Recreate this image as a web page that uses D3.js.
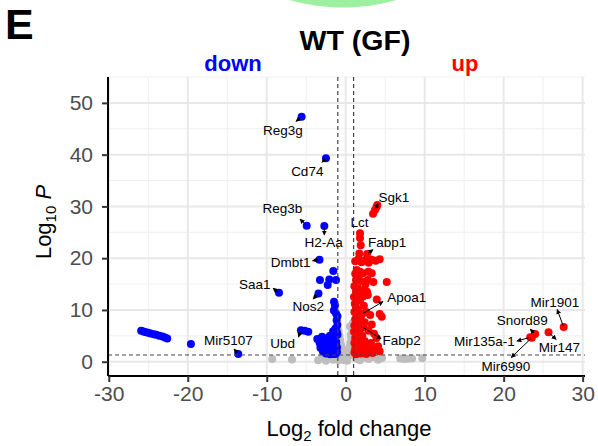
<!DOCTYPE html>
<html><head><meta charset="utf-8">
<script src="https://cdn.jsdelivr.net/npm/d3@7"></script>
<style>html,body{margin:0;padding:0;background:#fff;}svg{display:block;font-family:"Liberation Sans",Arial,sans-serif;}</style>
</head><body><svg id="c" width="598" height="446"></svg>
<script>
// ---------- data ----------
const xTicks = [-30, -20, -10, 0, 10, 20, 30];
const yTicks = [0, 10, 20, 30, 40, 50];
const fcCutoff = 1;
const pCutoff = 1.3;

// labelled down-regulated genes
const downGenes = ["Reg3g", "Cd74", "Reg3b", "H2-Aa", "Dmbt1", "Saa1", "Nos2", "Ubd", "Mir5107"];
const downLog2FC = [-5.58, -2.50, -4.94, -2.71, -3.32, -8.45, -3.45, -5.67, -13.61];
const downLogP = [47.3, 39.3, 26.25, 26.2, 19.7, 13.3, 13.2, 6.1, 1.5];

// labelled up-regulated genes
const upGenes = ["Sgk1", "Lct", "Fabp1", "Apoa1", "Fabp2", "Mir1901", "Snord89", "Mir135a-1", "Mir147", "Mir6990"];
const upLog2FC = [3.71, 1.81, 2.70, 2.07, 2.03, 27.60, 23.99, 23.36, 25.68, 23.57];
const upLogP = [29.3, 24.8, 20.8, 9.2, 6.8, 6.7, 5.35, 4.71, 5.68, 4.63];

// other significant down points [log2FC, logP]
const downOther = [
  [-25.9,6.0],[-25.6,5.85],[-25.3,5.7],[-25.0,5.6],[-24.7,5.45],[-24.3,5.3],[-24.0,5.2],[-23.6,5.0],[-23.2,4.85],[-22.9,4.7],[-22.6,4.5],
  [-19.6,3.4],[-4.74,5.8],[-5.2,6.0],
  [-1.57,17.5],[-3.26,15.8],[-2.08,15.9],[-1.23,15.8],[-2.28,14.8],[-1.48,11.6],[-1.36,10.9],[-1.23,9.3],[-1.05,8.8],[-1.05,7.1],[-1.05,5.2],
  [-1.5,9.9],[-1.15,8.0],[-1.3,6.4],
  [-3.6,4.4],[-3.3,3.6],[-3.0,4.8],[-2.8,3.0],[-2.6,4.3],[-2.4,2.4],[-2.2,3.6],[-2.0,5.0],[-1.8,4.1],[-1.6,5.9],[-1.4,4.6],[-1.2,3.8],
  [-1.1,5.6],[-2.9,2.0],[-2.5,1.6],[-2.1,1.9],[-1.7,1.5],[-1.3,2.2],[-1.1,2.8],[-1.5,2.7],[-2.3,4.6],[-1.9,3.0],[-1.2,6.2],
  [-2.7,3.7],[-3.2,2.7],[-1.6,1.8],[-1.9,2.3],[-1.3,1.5],[-1.1,1.9],[-1.4,3.3],[-1.75,2.5],[-2.0,1.45]
];

// other significant up points [log2FC, logP]
const upOther = [
  [4.0,30.25],[3.46,28.6],[3.9,29.9],
  [1.81,23.9],[1.90,22.5],[1.72,20.9],
  [1.2,19.4],[1.6,19.8],[2.0,19.2],[2.4,19.6],[2.9,19.1],[3.3,19.7],[3.8,19.5],[4.3,19.8],
  [1.39,17.7],[1.81,17.4],[2.19,17.1],[2.86,17.4],[3.30,17.1],
  [5.2,15.4],[1.3,15.8],[1.9,15.6],[2.8,15.8],[3.5,15.4],
  [1.56,14.2],[2.19,13.8],[2.7,13.5],[3.93,12.0],[4.56,8.7],[4.3,9.2],
  [1.05,12.5],[1.15,11.2],[1.3,10.5],[1.1,9.6],[1.45,9.0],[1.2,8.2],[1.6,7.8],[1.1,7.0],[1.35,6.5],[1.8,6.2],[1.05,5.8],[1.5,5.2],
  [2.1,5.0],[1.2,4.6],[1.7,4.2],[2.4,4.0],[1.1,3.6],[1.4,3.2],[2.0,3.0],[2.7,2.8],[1.2,2.5],[1.6,2.2],[2.2,2.0],[3.0,1.9],
  [1.1,1.8],[1.9,1.6],[2.6,1.5],[1.3,1.45],[3.4,1.7],[1.8,11.8],[2.3,10.8],[1.55,10.0],[2.6,9.6],[3.1,9.0],[1.9,8.6],[2.4,7.6],
  [3.3,7.2],[2.9,6.0],[3.6,5.4],[2.3,6.6],[3.9,4.6],[3.2,3.6],[4.1,3.0],[2.8,3.4],[3.5,2.4],[4.3,2.0],[1.3,13.5],[1.7,13.0],
  [2.2,12.6],[2.8,12.9],[1.1,14.6],[1.5,16.6],[1.2,17.0],[2.5,14.9]
];

// not significant [log2FC, logP]
const nsPoints = [
  [-9.3,0.5],[-6.8,0.45],[-3.5,0.3],[-3.0,0.7],[-2.5,0.2],[-2.0,0.8],[-1.6,0.4],[-1.2,1.0],[-0.9,0.3],
  [-0.9,6.0],[-0.8,5.0],[-0.7,4.2],[-0.6,3.3],[-0.5,2.5],[-0.4,1.8],[-0.3,1.2],[-0.2,0.8],[0.0,0.3],[-0.85,3.6],[-0.7,2.2],
  [-0.6,1.4],[-0.9,2.8],[-0.35,0.4],[0.15,0.6],[0.3,1.0],[0.4,1.9],[0.5,2.8],[0.6,3.6],[0.7,4.6],[0.8,5.6],[0.55,6.8],
  [0.9,7.5],[0.85,6.4],[0.75,3.0],[0.9,2.2],[0.45,1.2],[0.9,4.0],[0.65,5.2],[0.2,0.2],[-0.1,1.5],[0.1,2.3],[-0.5,0.9],
  [1.3,0.6],[1.8,0.3],[2.3,0.8],[2.9,0.5],[3.5,0.9],[4.1,0.4],[4.6,0.7],[6.9,0.6],[7.4,0.5],[7.9,0.55],[8.4,0.6],[9.7,0.65]
];

// ---------- drawing ----------
const svg = d3.select("#c");
const W = 598, H = 446;
const x = d3.scaleLinear().domain([-30.1, 30.3]).range([108, 585]);
const y = d3.scaleLinear().domain([-2.76, 55]).range([376, 77]);
const FONT = '"Liberation Sans", Arial, sans-serif';

svg.append("rect").attr("width", W).attr("height", H).attr("fill", "#fff");

// green shape from panel above
svg.append("circle").attr("cx", 343).attr("cy", -186.5).attr("r", 194).attr("fill", "#9CF0A0");

// panel letter
svg.append("text").attr("x", 5).attr("y", 39).attr("font-size", 43).attr("font-weight", "bold").attr("fill", "#000").text("E");

// grid
const g = svg.append("g");
const xMinor = d3.range(-25, 30, 10), yMinor = d3.range(5, 56, 10);
g.selectAll(".xm").data(xMinor).join("line").attr("x1", d => x(d)).attr("x2", d => x(d)).attr("y1", 77).attr("y2", 376).attr("stroke", "#EFEFEF").attr("stroke-width", 1);
g.selectAll(".ym").data(yMinor.filter(v => y(v) >= 77)).join("line").attr("y1", d => y(d)).attr("y2", d => y(d)).attr("x1", 108).attr("x2", 585).attr("stroke", "#EFEFEF").attr("stroke-width", 1);
g.selectAll(".xM").data(xTicks).join("line").attr("x1", d => x(d)).attr("x2", d => x(d)).attr("y1", 77).attr("y2", 376).attr("stroke", "#E8E8E8").attr("stroke-width", 2);
g.selectAll(".yM").data(yTicks).join("line").attr("y1", d => y(d)).attr("y2", d => y(d)).attr("x1", 108).attr("x2", 585).attr("stroke", "#E8E8E8").attr("stroke-width", 2);

// points
const pts = svg.append("g");
const R = 4;
pts.selectAll(".ns").data(nsPoints).join("circle").attr("cx", d => x(d[0])).attr("cy", d => y(d[1])).attr("r", R).attr("fill", "#BEBEBE");
const downAll = downOther.concat(downLog2FC.map((v, i) => [v, downLogP[i]]));
const upAll = upOther.concat(upLog2FC.map((v, i) => [v, upLogP[i]]));
pts.selectAll(".dn").data(downAll).join("circle").attr("cx", d => x(d[0])).attr("cy", d => y(d[1])).attr("r", R).attr("fill", "#0000FF");
pts.selectAll(".up").data(upAll).join("circle").attr("cx", d => x(d[0])).attr("cy", d => y(d[1])).attr("r", R).attr("fill", "#FF0000");

// threshold lines
const th = svg.append("g").attr("stroke", "#444").attr("stroke-width", 1.2).attr("stroke-dasharray", "4,3").attr("fill", "none");
[-fcCutoff, fcCutoff].forEach(v => th.append("line").attr("x1", x(v)).attr("x2", x(v)).attr("y1", 77).attr("y2", 376));
th.append("line").attr("x1", 108).attr("x2", 585).attr("y1", y(pCutoff)).attr("y2", y(pCutoff));

// axes
const fmt = d => String(d);
const xAxis = d3.axisBottom(x).tickValues(xTicks).tickSize(6).tickPadding(4).tickFormat(fmt);
const yAxis = d3.axisLeft(y).tickValues(yTicks).tickSize(6).tickPadding(9).tickFormat(fmt);
const gx = svg.append("g").attr("transform", "translate(0,376)").call(xAxis);
const gy = svg.append("g").attr("transform", "translate(108,0)").call(yAxis);
[gx, gy].forEach(a => {
  a.select(".domain").attr("stroke", "#000").attr("stroke-width", 2);
  a.selectAll(".tick line").attr("stroke", "#333").attr("stroke-width", 2);
  a.selectAll(".tick text").attr("font-size", 21).attr("fill", "#4D4D4D").attr("font-family", FONT);
});
gx.select(".domain").attr("d", "M108,0H585");
gy.select(".domain").attr("d", "M0,77V376");

// axis titles
const xt = svg.append("text").attr("x", 349).attr("y", 436).attr("text-anchor", "middle").attr("font-size", 22).attr("fill", "#000");
xt.append("tspan").text("Log");
xt.append("tspan").attr("font-size", 15).attr("dy", 5).text("2");
xt.append("tspan").attr("dy", -5).text(" fold change");
const yt = svg.append("text").attr("transform", "translate(51,222) rotate(-90)").attr("text-anchor", "middle").attr("font-size", 22).attr("fill", "#000");
yt.append("tspan").text("Log");
yt.append("tspan").attr("font-size", 15).attr("dy", 5).text("10");
yt.append("tspan").attr("dy", -5).text(" ");
yt.append("tspan").attr("font-style", "italic").text("P");

// titles
svg.append("text").attr("x", 355).attr("y", 50).attr("text-anchor", "middle").attr("font-size", 28.5).attr("font-weight", "bold").attr("fill", "#000").text("WT (GF)");
svg.append("text").attr("x", 233).attr("y", 71).attr("text-anchor", "middle").attr("font-size", 22).attr("font-weight", "bold").attr("fill", "#0000FF").text("down");
svg.append("text").attr("x", 465).attr("y", 71).attr("text-anchor", "middle").attr("font-size", 22).attr("font-weight", "bold").attr("fill", "#FF0000").text("up");

// gene labels: offsets (px) of text and connector end relative to point
const labelLayout = {
  "Reg3g": [-18.7, 18.5, -5.7, 4.5], "Cd74": [-18.7, 18, -4, 4], "Reg3b": [-24.4, -12.4, -6.7, -6.7],
  "H2-Aa": [-0.6, 21.3, 0, 9], "Dmbt1": [-28.8, 7, -7, 1], "Saa1": [-24.2, -3.7, -6, -4.7],
  "Nos2": [-10.3, 17.7, -5.5, 5.7], "Ubd": [-18.2, 18.3, -2.5, 7], "Mir5107": [-9.8, -9, -4.3, -5],
  "Sgk1": [19, -8.3, 3, -7], "Lct": [-0.5, -6.8, null, null], "Fabp1": [20, -6.7, 6, -4.5],
  "Apoa1": [44.8, -11.7, 21, -12.5], "Fabp2": [40, 18.3, 19.3, 12.3], "Mir1901": [-8.7, -20.3, -6.5, -17.5],
  "Snord89": [-13, -9, -5, -5], "Mir135a-1": [-45.7, 8.7, -13.3, 3.7], "Mir147": [10.8, 19.4, 7.7, 7.2],
  "Mir6990": [-26, 33.3, -20.7, 19.8]
};
const labelled = downGenes.map((n, i) => ({n, fc: downLog2FC[i], p: downLogP[i]}))
  .concat(upGenes.map((n, i) => ({n, fc: upLog2FC[i], p: upLogP[i]})));

svg.append("defs").append("marker").attr("id", "ah").attr("viewBox", "0 0 10 10").attr("refX", 9).attr("refY", 5)
  .attr("markerWidth", 5).attr("markerHeight", 5).attr("orient", "auto-start-reverse")
  .append("path").attr("d", "M0,0L10,5L0,10z").attr("fill", "#000");

const lab = svg.append("g");
labelled.forEach(d => {
  const L = labelLayout[d.n];
  const px = x(d.fc), py = y(d.p);
  if (L[2] !== null) {
    const ex = px + L[2], ey = py + L[3];
    const len = Math.hypot(L[2], L[3]);
    const sx = px + L[2] / len * 1.5, sy = py + L[3] / len * 1.5;
    lab.append("line").attr("x1", sx).attr("y1", sy).attr("x2", ex).attr("y2", ey)
      .attr("stroke", "#000").attr("stroke-width", 1).attr("marker-end", "url(#ah)");
  }
  lab.append("text").attr("x", px + L[0]).attr("y", py + L[1]).attr("text-anchor", "middle")
    .attr("font-size", 13.5).attr("fill", "#000").text(d.n);
});
</script></body></html>
